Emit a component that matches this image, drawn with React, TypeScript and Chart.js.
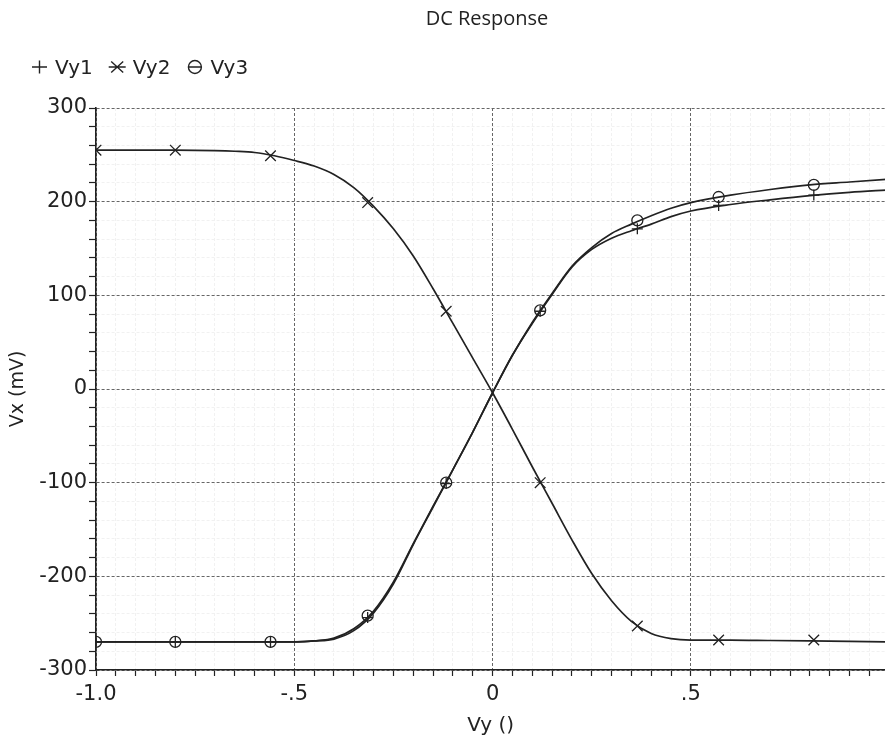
import React, { useEffect, useRef } from 'react';
import { Chart, registerables } from 'chart.js';

Chart.register(...registerables);

// ---------- data ----------
const TITLE = 'DC Response';
const SERIES_LABELS = ['Vy1', 'Vy2', 'Vy3'];
const LEGEND_GLYPHS = ['plus', 'star', 'theta'];

const CURVE_X = [
  -1.0, -0.9, -0.8, -0.7, -0.65, -0.6, -0.55, -0.5, -0.45, -0.4, -0.35, -0.3, -0.25,
  -0.2, -0.15, -0.1, -0.05, 0, 0.05, 0.1, 0.15, 0.2, 0.25, 0.3, 0.35, 0.4, 0.45, 0.5,
  0.6, 0.7, 0.8, 0.9, 1.0,
];
const VY1_CURVE = [
  -270, -270, -270, -270, -270, -270, -270, -270, -269, -267, -258, -239, -208,
  -166, -126, -86, -46, -4, 36, 70, 101, 130, 149, 161, 169, 176, 184, 190,
  197, 202, 206.5, 210, 212.5,
];
const VY2_CURVE = [
  255, 255, 255, 254.5, 253.8, 252.5, 249, 244, 238, 229, 215, 195, 171,
  142, 107, 70, 33, -4, -43, -83, -122, -161, -197, -226, -248, -261, -266.5, -268,
  -268, -268.5, -269, -269.5, -270,
];
const VY3_CURVE = [
  -270, -270, -270, -270, -270, -270, -270, -270, -269, -266, -256, -237, -206,
  -165, -125, -86, -46, -4, 36, 71, 102, 131, 151, 166, 176, 185, 193, 199,
  207, 213, 218, 221, 224,
];

const MARK_X = [-1.0, -0.8, -0.56, -0.315, -0.117, 0.12, 0.365, 0.57, 0.81];
const VY1_MARKS = [-270, -270, -270, -244, -101, 83, 171, 196, 207];
const VY2_MARKS = [255, 255, 249, 199, 83, -100, -253, -268, -268];
const VY3_MARKS = [-270, -270, -270, -242, -100, 84, 180, 205, 218];

const X_TICK_VALUES = [-1, -0.5, 0, 0.5];
const X_TICK_LABELS = ['-1.0', '-.5', '0', '.5'];
const Y_TICK_VALUES = [-300, -200, -100, 0, 100, 200, 300];
const Y_TICK_LABELS = ['-300', '-200', '-100', '0', '100', '200', '300'];
const X_AXIS_TITLE = 'Vy ()';
const Y_AXIS_TITLE = 'Vx (mV)';

// ---------- styles ----------
const INK = '#222222';
const MAJOR_GRID = '#666666';
const MINOR_GRID = '#f1f1f1';
const TICK_FONT = { family: '"DejaVu Sans", Verdana, sans-serif', size: 21 };

function isMajor(v: number, majors: number[]) {
  return majors.some((m) => Math.abs(m - v) < 1e-9);
}

function drawGlyph(ctx: CanvasRenderingContext2D, kind: string, cx: number, cy: number) {
  ctx.beginPath();
  if (kind === 'plus') {
    ctx.moveTo(cx - 7.5, cy);
    ctx.lineTo(cx + 7.5, cy);
    ctx.moveTo(cx, cy - 6.5);
    ctx.lineTo(cx, cy + 6.5);
  } else if (kind === 'star') {
    ctx.moveTo(cx - 6, cy - 5.5);
    ctx.lineTo(cx + 6, cy + 5.5);
    ctx.moveTo(cx - 6, cy + 5.5);
    ctx.lineTo(cx + 6, cy - 5.5);
    ctx.moveTo(cx - 8.5, cy);
    ctx.lineTo(cx + 8.5, cy);
  } else {
    ctx.arc(cx, cy, 6.5, 0, Math.PI * 2);
    ctx.moveTo(cx - 6.5, cy);
    ctx.lineTo(cx + 6.5, cy);
  }
  ctx.stroke();
}

const headerPlugin = {
  id: 'header',
  afterDraw(chart: any) {
    const ctx: CanvasRenderingContext2D = chart.ctx;
    ctx.save();
    // title
    ctx.fillStyle = INK;
    ctx.font = '20px "Open Sans", "Noto Sans", sans-serif';
    ctx.textAlign = 'center';
    ctx.textBaseline = 'alphabetic';
    ctx.fillText(TITLE, 487, 25);
    // legend
    ctx.textAlign = 'left';
    ctx.font = '20px "DejaVu Sans", Verdana, sans-serif';
    ctx.strokeStyle = INK;
    ctx.lineWidth = 1.4;
    let x = 32;
    const cy = 67;
    SERIES_LABELS.forEach((label, i) => {
      drawGlyph(ctx, LEGEND_GLYPHS[i], x + 7.5, cy);
      x += 23;
      ctx.fillText(label, x, 74);
      x += ctx.measureText(label).width + 17;
    });
    ctx.restore();
  },
};

export default function App() {
  const ref = useRef<HTMLCanvasElement>(null);

  useEffect(() => {
    const canvas = ref.current;
    if (!canvas) return;
    const pts = (xs: number[], ys: number[]) => xs.map((x, i) => ({ x, y: ys[i] }));
    const curve = (label: string, ys: number[]) => ({
      label,
      data: pts(CURVE_X, ys),
      showLine: true,
      borderColor: INK,
      backgroundColor: INK,
      borderWidth: 1.7,
      pointRadius: 0,
      pointHoverRadius: 0,
      cubicInterpolationMode: 'monotone',
      fill: false,
      order: 2,
    });
    const marks = (label: string, ys: number[], style: string, radius: number) => ({
      label,
      data: pts(MARK_X, ys),
      showLine: false,
      pointStyle: style,
      pointRadius: radius,
      pointHoverRadius: radius,
      borderColor: INK,
      backgroundColor: 'rgba(0,0,0,0)',
      pointBorderWidth: 1.3,
      order: 1,
    });

    const chart = new Chart(canvas, {
      type: 'scatter',
      data: {
        datasets: [
          curve(SERIES_LABELS[0], VY1_CURVE),
          curve(SERIES_LABELS[1], VY2_CURVE),
          curve(SERIES_LABELS[2], VY3_CURVE),
          marks(SERIES_LABELS[0], VY1_MARKS, 'cross', 5.5),
          marks(SERIES_LABELS[1], VY2_MARKS, 'crossRot', 7.5),
          marks(SERIES_LABELS[2], VY3_MARKS, 'circle', 5.5),
        ] as any,
      },
      options: {
        responsive: false,
        animation: false,
        events: [],
        layout: { padding: { top: 108, left: 0, right: 0, bottom: 0 } },
        plugins: {
          legend: { display: false },
          title: { display: false },
          tooltip: { enabled: false },
        },
        scales: {
          x: {
            type: 'linear',
            min: -1,
            max: 0.99,
            afterBuildTicks: (s: any) => {
              const t = [];
              for (let k = -20; k <= 19; k++) t.push({ value: (k * 5) / 100 });
              s.ticks = t;
            },
            afterFit: (s: any) => {
              s.height = 68;
            },
            ticks: {
              autoSkip: false,
              maxRotation: 0,
              minRotation: 0,
              padding: 6,
              color: INK,
              font: TICK_FONT,
              callback: (v: any) => {
                const i = X_TICK_VALUES.findIndex((m) => Math.abs(m - v) < 1e-9);
                return i >= 0 ? X_TICK_LABELS[i] : '';
              },
            },
            grid: {
              color: (c: any) => (c.tick && isMajor(c.tick.value, X_TICK_VALUES) ? MAJOR_GRID : MINOR_GRID),
              lineWidth: 1,
              tickLength: 6,
              tickColor: INK,
              tickWidth: 1.2,
            },
            border: { display: true, color: INK, width: 1.6, dash: [3, 2] },
            title: {
              display: true,
              text: X_AXIS_TITLE,
              color: INK,
              font: { family: '"DejaVu Sans", Verdana, sans-serif', size: 20 },
              padding: { top: 0, bottom: 0 },
            },
          },
          y: {
            type: 'linear',
            min: -300,
            max: 300,
            afterBuildTicks: (s: any) => {
              const t = [];
              for (let k = -15; k <= 15; k++) t.push({ value: k * 20 });
              s.ticks = t;
            },
            afterFit: (s: any) => {
              s.width = 96;
            },
            ticks: {
              autoSkip: false,
              padding: 2,
              color: INK,
              font: TICK_FONT,
              callback: (v: any) => {
                const i = Y_TICK_VALUES.findIndex((m) => Math.abs(m - v) < 1e-9);
                return i >= 0 ? Y_TICK_LABELS[i] : '';
              },
            },
            grid: {
              color: (c: any) => (c.tick && isMajor(c.tick.value, Y_TICK_VALUES) ? MAJOR_GRID : MINOR_GRID),
              lineWidth: 1,
              tickLength: 7,
              tickColor: INK,
              tickWidth: 1.2,
            },
            border: { display: true, color: INK, width: 1.6, dash: [3, 2] },
            title: {
              display: true,
              text: Y_AXIS_TITLE,
              color: INK,
              font: { family: '"DejaVu Sans", Verdana, sans-serif', size: 19 },
              padding: { top: 7, bottom: 0 },
            },
          },
        },
      } as any,
      plugins: [headerPlugin],
    });
    return () => chart.destroy();
  }, []);

  return (
    <div
      style={{
        position: 'absolute',
        left: 0,
        top: 0,
        width: 885,
        height: 738,
        overflow: 'hidden',
        background: '#fff',
      }}
    >
      <canvas ref={ref} width={894} height={738} style={{ display: 'block' }} />
    </div>
  );
}
